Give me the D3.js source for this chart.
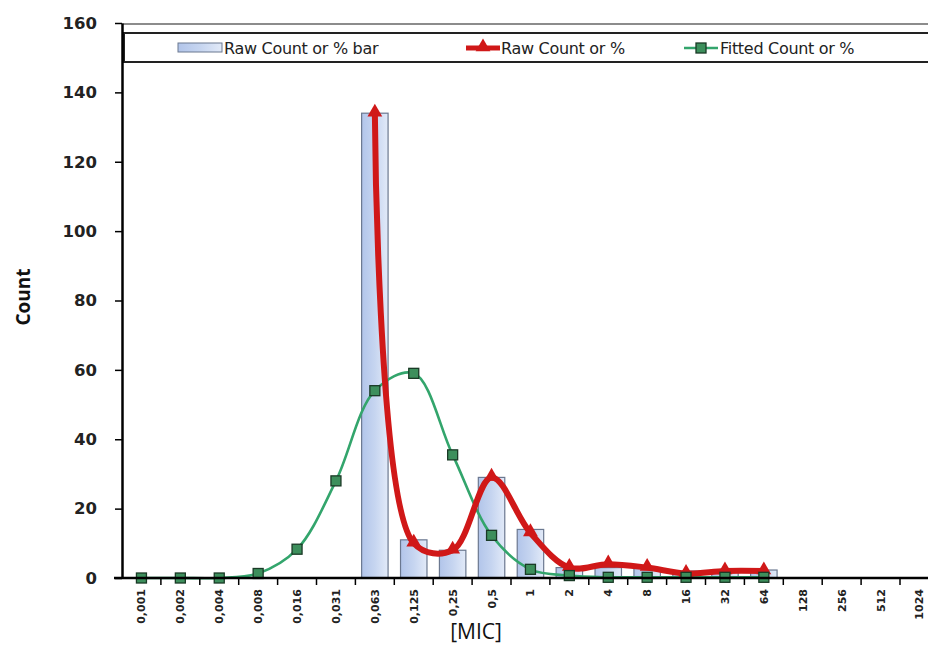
<!DOCTYPE html>
<html><head><meta charset="utf-8">
<script src="https://cdn.jsdelivr.net/npm/d3@7/dist/d3.min.js"></script>
<style>body{margin:0;background:#fff}svg{display:block}</style>
</head><body><svg id="c" width="928" height="647"></svg>
<script>
const categories = ["0,001","0,002","0,004","0,008","0,016","0,031","0,063","0,125","0,25","0,5","1","2","4","8","16","32","64","128","256","512","1024"];
const barCats = ["0,063","0,125","0,25","0,5","1","2","4","8","16","32","64"];
const barValues = [134, 11, 8, 29, 14, 3, 3, 3, 2, 2, 2.3];
const rawCats = ["0,063","0,125","0,25","0,5","1","2","4","8","16","32","64"];
const rawValues = [134, 10, 8, 29, 13, 3, 4, 3, 1.3, 2, 2];
const fitCats = ["0,001","0,002","0,004","0,008","0,016","0,031","0,063","0,125","0,25","0,5","1","2","4","8","16","32","64"];
const fitValues = [0, 0, 0, 1.3, 8.3, 28, 54, 59, 35.5, 12.3, 2.5, 0.7, 0.2, 0.2, 0.2, 0.2, 0.2];
const yTicks = [0, 20, 40, 60, 80, 100, 120, 140, 160];
const legendLabels = ["Raw Count or % bar", "Raw Count or %", "Fitted Count or %"];

const svg = d3.select("#c");
const x0 = 122, step = 38.9;
const x = d3.scaleBand().domain(categories).range([x0, x0 + step * categories.length]).paddingInner(0.32).paddingOuter(0.16);
const y = d3.scaleLinear().domain([0, 160]).range([578, 23]);
const cx = c => x(c) + x.bandwidth() / 2;

const defs = svg.append("defs");
const g = defs.append("linearGradient").attr("id", "bg").attr("x1", "0").attr("x2", "1");
g.append("stop").attr("offset", "0").attr("stop-color", "#b2c5ea");
g.append("stop").attr("offset", "0.5").attr("stop-color", "#c6d5f0");
g.append("stop").attr("offset", "1").attr("stop-color", "#e2eaf8");

// plot top border
svg.append("line").attr("x1", x0).attr("x2", 928).attr("y1", 24).attr("y2", 24).attr("stroke", "#8c8c8c").attr("stroke-width", 2);

// bars
svg.append("g").selectAll("rect").data(barCats.map((c, i) => ({c, v: barValues[i]}))).join("rect")
  .attr("x", d => x(d.c)).attr("width", x.bandwidth())
  .attr("y", d => y(d.v)).attr("height", d => y(0) - y(d.v))
  .attr("fill", "url(#bg)").attr("stroke", "#6b7890").attr("stroke-width", 1.2);

// green fitted line
const fitPts = fitCats.map((c, i) => [cx(c), y(fitValues[i])]);
svg.append("path").attr("d", d3.line().curve(d3.curveCatmullRom.alpha(0.5))(fitPts))
  .attr("fill", "none").attr("stroke", "#33a56c").attr("stroke-width", 2.6);

// red raw line
const rawPts = rawCats.map((c, i) => [cx(c), y(rawValues[i])]);
svg.append("path").attr("d", d3.line().curve(d3.curveCatmullRom.alpha(0.5))(rawPts))
  .attr("fill", "none").attr("stroke", "#d01818").attr("stroke-width", 6).attr("stroke-linejoin", "round");
svg.append("g").selectAll("path").data(rawPts).join("path")
  .attr("d", d3.symbol(d3.symbolTriangle, 95)).attr("transform", d => `translate(${d[0]},${d[1] - 1})`)
  .attr("fill", "#d01818");

// green squares
svg.append("g").selectAll("rect").data(fitPts).join("rect")
  .attr("x", d => d[0] - 5).attr("y", d => d[1] - 5).attr("width", 10).attr("height", 10)
  .attr("fill", "#3d8f5c").attr("stroke", "#1a3a26").attr("stroke-width", 1.3);

// legend box
svg.append("rect").attr("x", 124).attr("y", 33).attr("width", 830).attr("height", 29)
  .attr("fill", "#fff").attr("stroke", "#222").attr("stroke-width", 2);
const ly = 48;
svg.append("rect").attr("x", 178).attr("y", 43).attr("width", 44).attr("height", 9)
  .attr("fill", "url(#bg)").attr("stroke", "#6b7890");
svg.append("line").attr("x1", 466).attr("x2", 500).attr("y1", ly).attr("y2", ly).attr("stroke", "#d01818").attr("stroke-width", 5);
svg.append("path").attr("d", d3.symbol(d3.symbolTriangle, 95)).attr("transform", `translate(483,${ly - 1})`).attr("fill", "#d01818");
svg.append("line").attr("x1", 684).attr("x2", 718).attr("y1", ly).attr("y2", ly).attr("stroke", "#33a56c").attr("stroke-width", 2.6);
svg.append("rect").attr("x", 696).attr("y", ly - 5).attr("width", 10).attr("height", 10).attr("fill", "#3d8f5c").attr("stroke", "#1a3a26").attr("stroke-width", 1.3);
const lxs = [224, 501, 720];
svg.append("g").selectAll("text").data(legendLabels).join("text")
  .attr("x", (d, i) => lxs[i]).attr("y", ly + 5.5).text(d => d)
  .attr("font-family", "DejaVu Sans").attr("font-size", 16).attr("letter-spacing", -0.3).attr("fill", "#222");

// y axis
const ya = svg.append("g").attr("transform", `translate(${x0},0)`)
  .call(d3.axisLeft(y).tickValues(yTicks).tickSize(7).tickSizeOuter(0).tickPadding(18));
ya.select(".domain").attr("stroke", "#000").attr("stroke-width", 2.5);
ya.selectAll(".tick line").attr("stroke", "#000").attr("stroke-width", 1.5);
ya.selectAll("text").attr("font-family", "DejaVu Sans").attr("font-weight", "bold").attr("font-size", 16.5).attr("fill", "#222");

// x axis
const xa = svg.append("g").attr("transform", `translate(0,${y(0)})`);
xa.append("line").attr("x1", x0 - 8).attr("x2", 928).attr("y1", 0).attr("y2", 0).attr("stroke", "#000").attr("stroke-width", 2.5);
xa.selectAll("line.tk").data(d3.range(1, categories.length + 1)).join("line").attr("class", "tk")
  .attr("x1", i => x0 + i * step).attr("x2", i => x0 + i * step).attr("y1", 0).attr("y2", 7)
  .attr("stroke", "#000").attr("stroke-width", 1.5);
xa.selectAll("text").data(categories).join("text")
  .attr("transform", d => `translate(${cx(d) + 4},11) rotate(-90)`)
  .attr("text-anchor", "end").text(d => d)
  .attr("font-family", "DejaVu Sans").attr("font-weight", "bold").attr("font-size", 11).attr("fill", "#222");

// axis titles
svg.append("text").attr("transform", "translate(30,297) rotate(-90)").attr("text-anchor", "middle")
  .text("Count").attr("font-family", "Open Sans").attr("font-weight", 700).attr("font-size", 19).attr("fill", "#111");
svg.append("text").attr("x", 476).attr("y", 639).attr("text-anchor", "middle")
  .text("[MIC]").attr("font-family", "Open Sans").attr("font-size", 21).attr("fill", "#111");
</script></body></html>
